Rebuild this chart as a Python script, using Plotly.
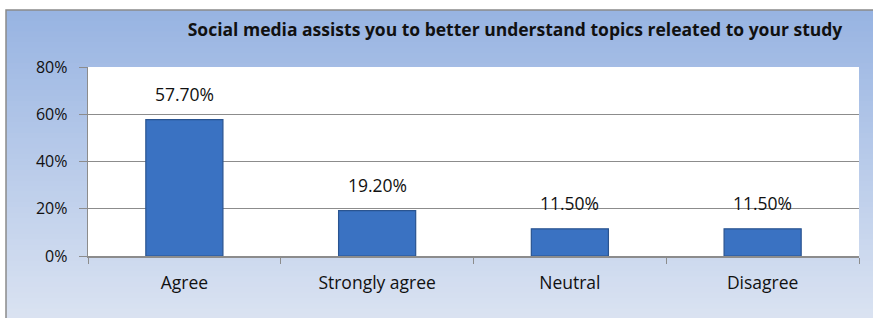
import plotly.graph_objects as go

categories = ["Agree", "Strongly agree", "Neutral", "Disagree"]
values = [0.577, 0.192, 0.115, 0.115]
labels = ["57.70%", "19.20%", "11.50%", "11.50%"]
title_text = "Social media assists you to better understand topics releated to your study"

W, H = 873, 318
L, R, T, B = 88, 14, 67, 62
pw, ph = W - L - R, H - T - B
FONT = "Open Sans, Lato, sans-serif"

def px_x(x):
    return (x - L) / pw

def px_y(y):
    return (H - B - y) / ph

fig = go.Figure()
fig.add_trace(go.Bar(
    x=categories, y=values, width=0.4,
    marker=dict(color="#3a72c2", line=dict(color="#2a5490", width=1.2)),
    hoverinfo="skip",
))

for c, v, t in zip(categories, values, labels):
    fig.add_annotation(x=c, y=v, text=t, showarrow=False, yanchor="bottom", yshift=12,
                       font=dict(size=17.5, color="#111", family=FONT))

shapes = []
top_c = (152, 180, 226)
bot_c = (220, 228, 242)
y0p, y1p = 10, 330
n = 60
for i in range(n):
    a = y0p + (y1p - y0p) * i / n
    b = y0p + (y1p - y0p) * (i + 1) / n + 0.6
    f = i / (n - 1)
    col = tuple(round(top_c[k] + (bot_c[k] - top_c[k]) * f) for k in range(3))
    shapes.append(dict(type="rect", xref="paper", yref="paper", layer="below",
                       x0=px_x(6), x1=px_x(880), y0=px_y(b), y1=px_y(a),
                       fillcolor="rgb(%d,%d,%d)" % col, line=dict(width=0)))
shapes.append(dict(type="rect", xref="paper", yref="paper", layer="below",
                   x0=px_x(6), x1=px_x(880), y0=px_y(330), y1=px_y(10),
                   fillcolor="rgba(0,0,0,0)", line=dict(color="#8a8a8a", width=1.5)))
shapes.append(dict(type="rect", xref="paper", yref="paper", layer="below",
                   x0=0, x1=1, y0=0, y1=1, fillcolor="white", line=dict(width=0)))

fig.update_layout(
    width=W, height=H,
    margin=dict(l=L, r=R, t=T, b=B),
    paper_bgcolor="white", plot_bgcolor="white",
    showlegend=False,
    shapes=shapes,
    title=dict(text="<b>" + title_text + "</b>", x=px_x(515), xanchor="center",
               y=1 - 30 / H, yanchor="middle", xref="paper",
               font=dict(size=17.5, color="#111", family=FONT)),
    font=dict(family=FONT, size=17.5, color="#111"),
)
fig.update_yaxes(range=[0, 0.8], dtick=0.2, tickformat=".0%", ticksuffix="\u00a0\u00a0",
                 showgrid=True,
                 gridcolor="#8c8c8c", gridwidth=1, showline=True, linecolor="#8c8c8c",
                 ticks="outside", ticklen=8, tickcolor="#8c8c8c", zeroline=False,
                 tickfont=dict(size=16), fixedrange=True)
fig.update_xaxes(showline=True, linecolor="#8c8c8c", linewidth=1.5, ticks="outside",
                 tickson="boundaries", ticklen=6, tickcolor="#8c8c8c",
                 ticklabelstandoff=10, tickfont=dict(size=17.5), fixedrange=True)

fig.write_html("out.html", config={"displayModeBar": False},
               post_script="document.body.style.margin='0';document.body.style.overflow='hidden';")
